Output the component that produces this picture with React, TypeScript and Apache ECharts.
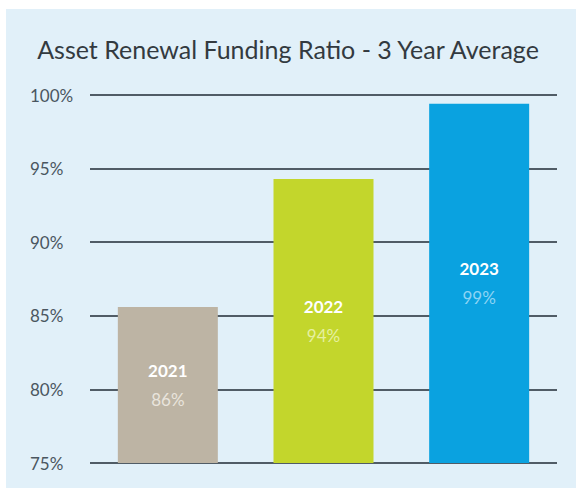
import React, { useEffect, useRef } from "react";
import * as echarts from "echarts";

const categories = ["2021", "2022", "2023"];
const values = [85.6, 94.3, 99.4];
const valueLabels = ["86%", "94%", "99%"];
const yTicks = [75, 80, 85, 90, 95, 100];
const barColors = ["#bdb4a4", "#c3d62c", "#0aa2e0"];
const pctColors = ["#e9e4dc", "#e6f0a0", "#8ed4f4"];

export default function App() {
  const ref = useRef<HTMLDivElement>(null);
  useEffect(() => {
    const chart = echarts.init(ref.current!, null, { renderer: "svg" });
    const font = "Lato, 'Open Sans', sans-serif";
    chart.setOption({
      animation: false,
      backgroundColor: "#ffffff",
      graphic: [
        {
          type: "rect",
          z: -10,
          silent: true,
          shape: { x: 6, y: 9, width: 570, height: 479 },
          style: { fill: "#e1f0f9" },
        },
      ],
      title: {
        text: "Asset Renewal Funding Ratio - 3 Year Average",
        left: "center",
        top: 31,
        textStyle: {
          fontFamily: font,
          fontSize: 25,
          fontWeight: "normal",
          color: "#333a40",
        },
      },
      grid: { left: 90, right: 19, top: 95, bottom: 25 },
      xAxis: {
        type: "category",
        data: categories,
        axisLine: { show: false },
        axisTick: { show: false },
        axisLabel: { show: false },
      },
      yAxis: {
        type: "value",
        min: yTicks[0],
        max: yTicks[yTicks.length - 1],
        interval: 5,
        axisLine: { show: false },
        axisTick: { show: false },
        axisLabel: {
          formatter: (v: number) => `${v}%`,
          align: "left",
          margin: 60,
          fontFamily: font,
          fontSize: 17,
          color: "#4a5660",
        },
        splitLine: { lineStyle: { color: "#505c66", width: 2 } },
      },
      series: [
        {
          type: "bar",
          barWidth: 100,
          data: values.map((v, i) => ({
            value: v,
            itemStyle: { color: barColors[i] },
            label: {
              show: true,
              position: "inside",
              formatter: () => `{y|${categories[i]}}\n{p|${valueLabels[i]}}`,
              rich: {
                y: {
                  fontFamily: font,
                  fontSize: 17,
                  fontWeight: "bold",
                  color: "#ffffff",
                  lineHeight: 29,
                },
                p: {
                  fontFamily: font,
                  fontSize: 17,
                  color: pctColors[i],
                  lineHeight: 29,
                },
              },
            },
          })),
        },
      ],
    });
    return () => chart.dispose();
  }, []);
  return (
    <div
      ref={ref}
      style={{ position: "fixed", left: 0, top: 0, width: 576, height: 488 }}
    />
  );
}
